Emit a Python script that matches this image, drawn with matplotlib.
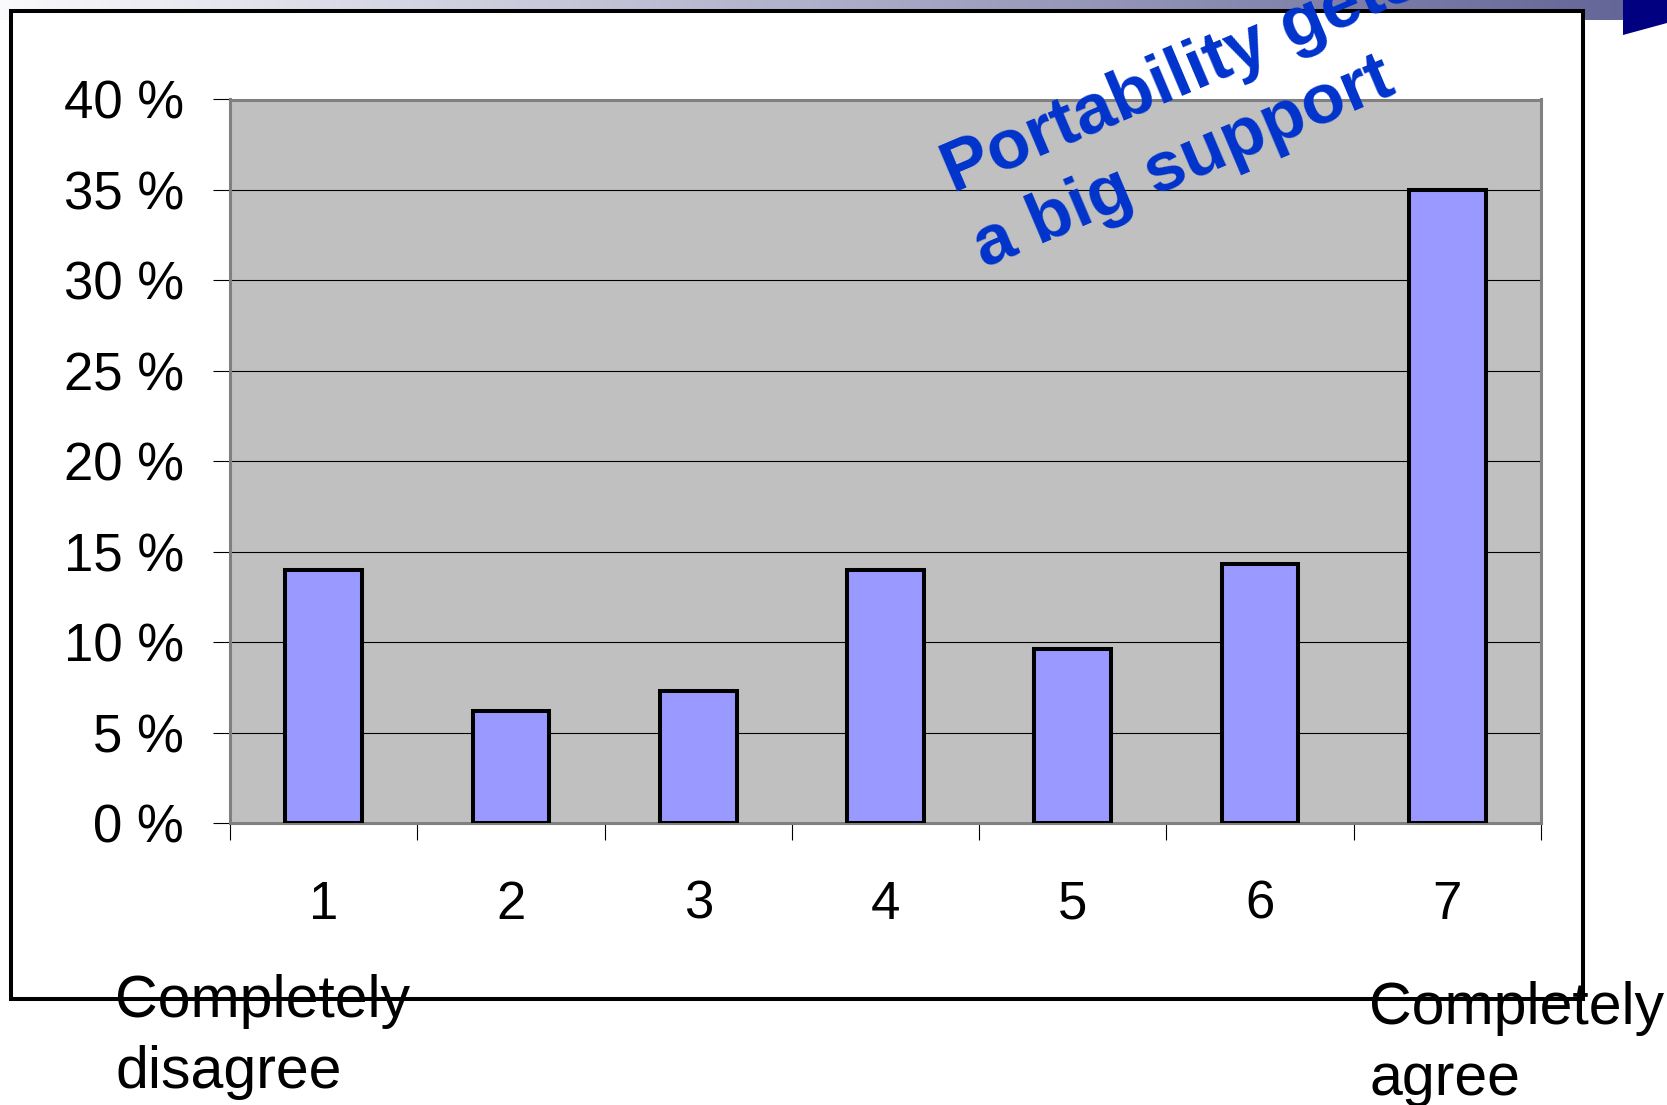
import numpy as np
import matplotlib
matplotlib.use("Agg")
import matplotlib.pyplot as plt
from matplotlib.patches import Rectangle, Polygon

# Survey answers on a 1..7 agreement scale (share of respondents, %)
categories = ["1", "2", "3", "4", "5", "6", "7"]
shares = [14.0, 6.2, 7.3, 14.0, 9.6, 14.3, 35.0]
y_ticks = [0, 5, 10, 15, 20, 25, 30, 35, 40]
y_tick_labels = [f"{v} %" for v in y_ticks]
left_end = ["Completely", "disagree"]
right_end = ["Completely", "agree"]
headline = ["Portability gets", "a big support"]

plt.rcParams["font.family"] = ["Liberation Sans", "DejaVu Sans"]

W, H, DPI = 1667, 1105, 100
fig = plt.figure(figsize=(W / DPI, H / DPI), dpi=DPI)
fig.patch.set_facecolor("white")


def fx(px):
    return px / W


def fy(py):
    return 1 - py / H


# ---- slide decoration layer (pixel coordinates, y downwards) ----
bg = fig.add_axes([0, 0, 1, 1], zorder=0)
t = np.linspace(0, 1, 512)
c0 = np.array([250, 250, 252]) / 255
c1 = np.array([100, 102, 152]) / 255
band = (c0[None, :] * (1 - t[:, None]) + c1[None, :] * t[:, None])[None, :, :]
bg.imshow(band, extent=(0, 1623, 20, 0), aspect="auto",
          interpolation="bilinear", zorder=1)
bg.add_patch(Polygon([(1623, 0), (W, 0), (W, 23), (1623, 35)],
                     closed=True, facecolor="#000080", edgecolor="none", zorder=1))
bg.add_patch(Rectangle((11, 11), 1572, 988, facecolor="white",
                       edgecolor="black", linewidth=2.9, zorder=2))
bg.set_xlim(0, W)
bg.set_ylim(H, 0)
bg.axis("off")

# ---- chart ----
left, right, top, bottom = 230, 1541, 99.5, 823
ax = fig.add_axes([fx(left), fy(bottom), fx(right - left), (bottom - top) / H], zorder=1)
ax.set_facecolor("#C0C0C0")

x = np.arange(len(categories))
ax.bar(x, shares, width=0.41, color="#9999FF", edgecolor="black",
       linewidth=2.9, zorder=3)

ax.set_xlim(-0.5, len(categories) - 0.5)
ax.set_ylim(0, 40)
ax.set_yticks(y_ticks)
ax.set_yticklabels(y_tick_labels)
ax.set_xticks(x)
ax.set_xticklabels(categories)
ax.set_xticks(np.arange(len(categories) + 1) - 0.5, minor=True)

ax.set_axisbelow(True)
for v in y_ticks[1:-1]:
    ax.axhline(v, color="black", linewidth=0.8, zorder=1)

ax.tick_params(axis="y", which="major", direction="out", length=12, width=0.8,
               color="black", pad=21, labelsize=38)
ax.tick_params(axis="x", which="major", length=0, pad=41, labelsize=38)
ax.tick_params(axis="x", which="minor", direction="out", length=12,
               width=0.8, color="black")

for s in ax.spines.values():
    s.set_color("#808080")
    s.set_linewidth(2.2)

# ---- scale end captions ----
cap = dict(fontsize=42.5, color="black", ha="left", va="baseline", zorder=6)
fig.text(fx(115), fy(1017), left_end[0], **cap)
fig.text(fx(115), fy(1088), left_end[1], **cap)
fig.text(fx(1369), fy(1024), right_end[0], **cap)
fig.text(fx(1369), fy(1095), right_end[1], **cap)

# ---- headline ----
hl = dict(fontsize=51, fontweight="bold", color="#0033CC", rotation=23,
          rotation_mode="anchor", ha="left", va="baseline", zorder=7)
fig.text(fx(953), fy(193), headline[0], **hl)
fig.text(fx(984), fy(268), headline[1], **hl)

fig.savefig("out.png", dpi=DPI)
